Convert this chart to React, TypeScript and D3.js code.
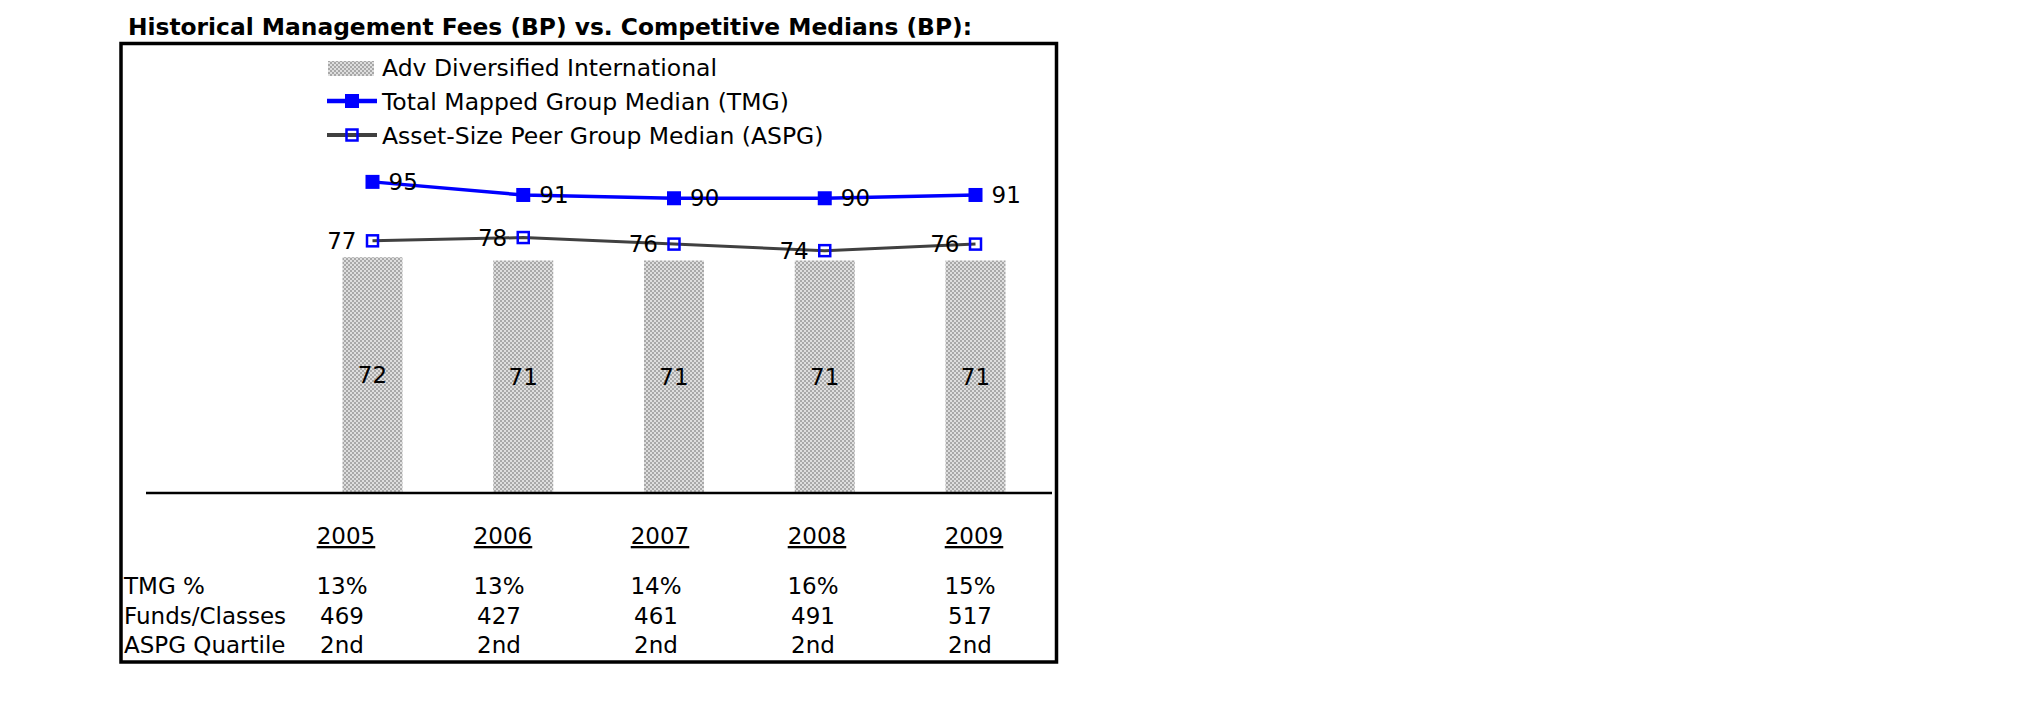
import React from 'react';
import * as d3 from 'd3';

const years = ['2005', '2006', '2007', '2008', '2009'];
const advValues = [72, 71, 71, 71, 71];
const tmgValues = [95, 91, 90, 90, 91];
const aspgValues = [77, 78, 76, 74, 76];
const tmgPct = ['13%', '13%', '14%', '16%', '15%'];
const fundsClasses = ['469', '427', '461', '491', '517'];
const aspgQuartile = ['2nd', '2nd', '2nd', '2nd', '2nd'];
const rowLabels = ['TMG %', 'Funds/Classes', 'ASPG Quartile'];
const titleText = 'Historical Management Fees (BP) vs. Competitive Medians (BP):';
const legendLabels = [
  'Adv Diversified International',
  'Total Mapped Group Median (TMG)',
  'Asset-Size Peer Group Median (ASPG)',
];

const FONT = '"DejaVu Sans", Verdana, sans-serif';
const BLUE = '#0000ff';
const GRAY = '#404040';

export default function App() {
  const x = d3.scalePoint<string>().domain(years).range([372.5, 975.5]);
  const y = d3.scaleLinear().domain([0, 100]).range([493, 165.5]);
  const tx = d3.scalePoint<string>().domain(years).range([346, 974]);
  const barW = 60;
  const line = d3
    .line<number>()
    .x((_, i) => x(years[i]) as number)
    .y((v) => y(v));
  const rows = [tmgPct, fundsClasses, aspgQuartile];
  const rowBase = [594, 623.5, 653];
  const fs = 23;
  const lfs = 23.5;

  return (
    <svg
      width={2025}
      height={717}
      style={{ position: 'absolute', left: 0, top: 0, background: '#fff' }}
      fontFamily={FONT}
    >
      <defs>
        <pattern id="dots" width={4} height={4} patternUnits="userSpaceOnUse">
          <rect width={4} height={4} fill="#dedede" />
          <rect x={0} y={0} width={2} height={2} fill="#a8a8a8" />
          <rect x={2} y={2} width={2} height={2} fill="#a8a8a8" />
        </pattern>
      </defs>
      <rect width={2025} height={717} fill="#fff" />
      <text x={128} y={35} fontSize={23} fontWeight="bold" textLength={844} lengthAdjust="spacingAndGlyphs">
        {titleText}
      </text>
      <rect x={121} y={43.5} width={935.5} height={618.5} fill="none" stroke="#000" strokeWidth={3.5} />

      {/* legend */}
      <rect x={328} y={61} width={46} height={15} fill="url(#dots)" />
      <text x={382} y={76} fontSize={lfs}>{legendLabels[0]}</text>
      <line x1={327} x2={377} y1={101} y2={101} stroke={BLUE} strokeWidth={4.5} />
      <rect x={345} y={94} width={14} height={14} fill={BLUE} />
      <text x={382} y={109.5} fontSize={lfs}>{legendLabels[1]}</text>
      <line x1={327} x2={377} y1={135} y2={135} stroke={GRAY} strokeWidth={4} />
      <rect x={346.5} y={129.5} width={11} height={11} fill="none" stroke={BLUE} strokeWidth={2.5} />
      <text x={382} y={144} fontSize={lfs}>{legendLabels[2]}</text>

      {/* bars */}
      {advValues.map((v, i) => (
        <g key={'b' + i}>
          <rect
            x={(x(years[i]) as number) - barW / 2}
            y={y(v)}
            width={barW}
            height={y(0) - y(v)}
            fill="url(#dots)"
          />
          <text
            x={x(years[i]) as number}
            y={(y(v) + y(0)) / 2}
            fontSize={fs}
            textAnchor="middle"
            dominantBaseline="central"
          >
            {v}
          </text>
        </g>
      ))}

      {/* axis line */}
      <line x1={146} x2={1052} y1={493} y2={493} stroke="#000" strokeWidth={2.5} />

      {/* ASPG line */}
      <path d={line(aspgValues) || ''} fill="none" stroke={GRAY} strokeWidth={3} />
      {aspgValues.map((v, i) => (
        <g key={'a' + i}>
          <rect
            x={(x(years[i]) as number) - 5.5}
            y={y(v) - 5.5}
            width={11}
            height={11}
            fill="none"
            stroke={BLUE}
            strokeWidth={2.5}
          />
          <text
            x={(x(years[i]) as number) - 16}
            y={y(v)}
            fontSize={fs}
            textAnchor="end"
            dominantBaseline="central"
          >
            {v}
          </text>
        </g>
      ))}

      {/* TMG line */}
      <path d={line(tmgValues) || ''} fill="none" stroke={BLUE} strokeWidth={3.5} />
      {tmgValues.map((v, i) => (
        <g key={'t' + i}>
          <rect x={(x(years[i]) as number) - 7} y={y(v) - 7} width={14} height={14} fill={BLUE} />
          <text
            x={(x(years[i]) as number) + 16}
            y={y(v)}
            fontSize={fs}
            dominantBaseline="central"
          >
            {v}
          </text>
        </g>
      ))}

      {/* table */}
      {years.map((yr) => (
        <text
          key={'y' + yr}
          x={tx(yr) as number}
          y={544}
          fontSize={fs}
          textAnchor="middle"
          style={{ textDecoration: 'underline' }}
        >
          {yr}
        </text>
      ))}
      {rowLabels.map((lab, r) => (
        <text key={'rl' + r} x={124} y={rowBase[r]} fontSize={fs}>
          {lab}
        </text>
      ))}
      {rows.map((row, r) =>
        row.map((val, i) => (
          <text
            key={'c' + r + '-' + i}
            x={(tx(years[i]) as number) - 4}
            y={rowBase[r]}
            fontSize={fs}
            textAnchor="middle"
          >
            {val}
          </text>
        ))
      )}
    </svg>
  );
}
